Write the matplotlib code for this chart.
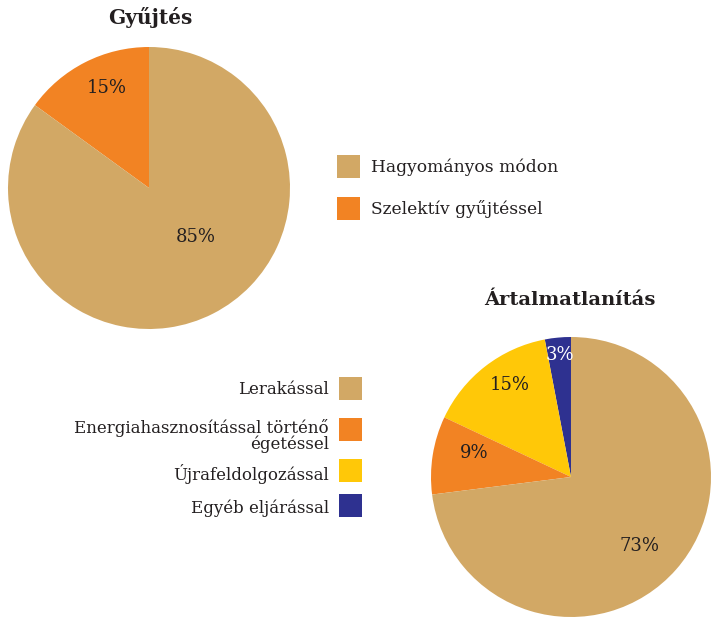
import matplotlib.pyplot as plt
from matplotlib.patches import Rectangle

# Gyűjtés (collection) shares
gyujtes_labels = ["Szelektív gyűjtéssel", "Hagyományos módon"]
gyujtes_values = [15, 85]
gyujtes_colors = ["#F28323", "#D2A865"]

# Ártalmatlanítás (disposal) shares
artalm_labels = ["Egyéb eljárással", "Újrafeldolgozással",
                 "Energiahasznosítással történő\négetéssel", "Lerakással"]
artalm_values = [3, 15, 9, 73]
artalm_colors = ["#2E3190", "#FFC808", "#F28323", "#D2A865"]

W, H = 715, 627
TEXT = "#231F20"
plt.rcParams['font.family'] = ['DejaVu Serif']

fig = plt.figure(figsize=(W / 100, H / 100), dpi=100)


def px(x, y):
    return x / W, 1 - y / H


def pie_axes(cx, cy, r):
    return fig.add_axes([(cx - r) / W, 1 - (cy + r) / H, 2 * r / W, 2 * r / H])


def draw_pie(ax, values, colors, label_pos, label_colors):
    ax.pie(values, colors=colors, startangle=90, counterclock=True, radius=1,
           wedgeprops=dict(linewidth=0))
    ax.set_xlim(-1, 1)
    ax.set_ylim(-1, 1)
    ax.axis("off")
    for v, (lx, ly), c in zip(values, label_pos, label_colors):
        ax.text(lx, ly, f"{v}%", ha="center", va="center", fontsize=13, color=c)


# top pie
ax1 = pie_axes(149, 188, 141)
draw_pie(ax1, gyujtes_values, gyujtes_colors,
         [(-0.30, 0.71), (0.33, -0.35)], [TEXT, TEXT])
fig.text(*px(150, 17), "Gyűjtés", ha="center", va="center",
         fontsize=14.5, fontweight="bold", color=TEXT)

# bottom pie
ax2 = pie_axes(571, 477, 140)
draw_pie(ax2, artalm_values, artalm_colors,
         [(-0.08, 0.87), (-0.44, 0.66), (-0.69, 0.17), (0.49, -0.49)],
         ["white", TEXT, TEXT, TEXT])
fig.text(*px(570, 300), "Ártalmatlanítás", ha="center", va="center",
         fontsize=14, fontweight="bold", color=TEXT)


def legend_box(x, y, color):
    fig.patches.append(Rectangle(px(x, y + 23), 23 / W, 23 / H,
                                 transform=fig.transFigure, facecolor=color,
                                 linewidth=0))


# legend for the collection pie: box then text
for i, (lab, col) in enumerate(zip(gyujtes_labels[::-1], gyujtes_colors[::-1])):
    y = 155 + 42 * i
    legend_box(337, y, col)
    fig.text(*px(371, y + 12), lab, ha="left", va="center", fontsize=12.3, color=TEXT)

# legend for the disposal pie: text then box
box_y = [377, 418, 459, 494]
text_y = [389, 436, 474, 508]
for lab, col, by, ty in zip(artalm_labels[::-1], artalm_colors[::-1], box_y, text_y):
    legend_box(339, by, col)
    fig.text(*px(329, ty), lab, ha="right", va="center", fontsize=12,
             color=TEXT, linespacing=0.95)

fig.savefig("out.png", dpi=100)
